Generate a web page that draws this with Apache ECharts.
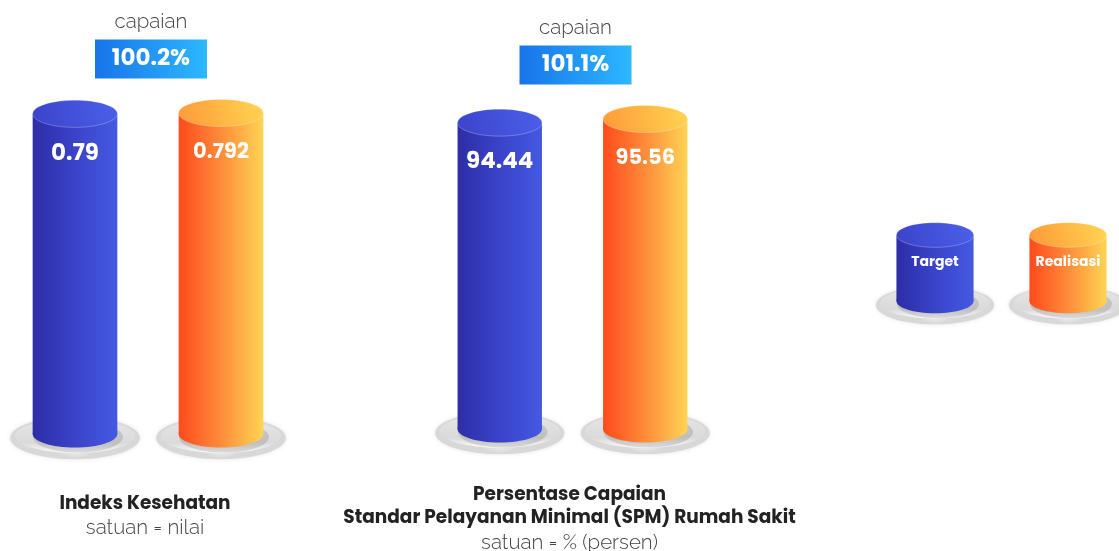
<!DOCTYPE html>
<html>
<head>
<meta charset="utf-8">
<title>Capaian Indikator</title>
<script src="https://cdn.jsdelivr.net/npm/echarts@6/dist/echarts.min.js"></script>
<style>
html, body { margin: 0; padding: 0; background: #fff; }
#chart { width: 1119px; height: 551px; }
</style>
</head>
<body>
<div id="chart"></div>
<script>
// data
var seriesNames = ['Target', 'Realisasi'];
var indikator = [
  ['Indeks Kesehatan'],
  ['Persentase Capaian', 'Standar Pelayanan Minimal (SPM) Rumah Sakit']
];
var satuan = ['satuan = nilai', 'satuan = % (persen)'];
var target = [0.79, 94.44];
var realisasi = [0.792, 95.56];
var capaian = ['100.2%', '101.1%'];

var boldFont = 'Poppins, Inter, "Noto Sans", sans-serif';
var lightFont = 'Raleway, Lato, "Open Sans", sans-serif';

// one grid per indicator, the last one holds the legend cylinders
var grids = [
  { left: 2, top: 113, width: 292, height: 321 },
  { left: 427, top: 119, width: 291, height: 310 },
  { left: 935, top: 235, width: 133, height: 66 }
];

var palette = [
  { side: ['#2d2da6', '#3a43c9', '#4459e2'], cap: ['#3a43c9', '#4c60ea'], size: 23 },
  { side: ['#ff4a1c', '#fd8c3a', '#ffd454'], cap: ['#ff9838', '#ffd652'], size: 21 }
];

function hGrad(c) {
  return new echarts.graphic.LinearGradient(0, 0, 1, 0, [
    { offset: 0, color: c[0] }, { offset: 0.5, color: c[1] }, { offset: 1, color: c[2] }
  ]);
}

function cylinder(isLegend) {
  return function (params, api) {
    var i = api.value(0);
    var top = api.coord([i, api.value(1)]);
    var base = api.coord([i, 0]);
    var w = api.size([1, 0])[0] * 0.58;
    var hw = w / 2, ry = w * 0.16;
    var p = palette[i];
    var side = hGrad(p.side);
    var cap = new echarts.graphic.LinearGradient(0, 1, 1, 0, [
      { offset: 0, color: p.cap[0] }, { offset: 1, color: p.cap[1] }
    ]);
    var label = isLegend ? seriesNames[i] : String(api.value(1));
    return {
      type: 'group',
      children: [
        {
          type: 'ellipse',
          shape: { cx: base[0], cy: base[1] + 4, rx: hw * 1.53, ry: hw * 0.5 },
          style: {
            fill: new echarts.graphic.RadialGradient(0.5, 0.4, 0.6, [
              { offset: 0, color: '#f6f6f6' }, { offset: 0.75, color: '#e8e8e8' }, { offset: 1, color: '#d8d8d8' }
            ]),
            shadowBlur: 4, shadowColor: 'rgba(0,0,0,0.1)'
          }
        },
        {
          type: 'ellipse',
          shape: { cx: base[0], cy: base[1] + 2, rx: hw * 1.42, ry: hw * 0.4 },
          style: {
            fill: new echarts.graphic.LinearGradient(0, 0, 0, 1, [
              { offset: 0, color: '#e6e6e6' }, { offset: 0.7, color: '#dadada' }, { offset: 1, color: '#fafafa' }
            ])
          }
        },
        {
          type: 'ellipse',
          shape: { cx: base[0] + 3, cy: base[1] + 3, rx: hw * 1.06, ry: ry * 1.15 },
          style: { fill: 'rgba(0,0,0,0.12)' }
        },
        {
          type: 'rect',
          shape: { x: top[0] - hw, y: top[1], width: w, height: base[1] - top[1] },
          style: { fill: side }
        },
        {
          type: 'ellipse',
          shape: { cx: base[0], cy: base[1], rx: hw, ry: ry },
          style: { fill: side }
        },
        {
          type: 'ellipse',
          shape: { cx: top[0], cy: top[1], rx: hw, ry: ry },
          style: { fill: cap, stroke: 'rgba(255,255,255,0.25)', lineWidth: 1 }
        },
        {
          type: 'text',
          style: {
            text: label, x: top[0], y: top[1] + (isLegend ? 27 : 40),
            fill: '#fff',
            font: 'bold ' + (isLegend ? 14 : p.size) + 'px ' + boldFont,
            align: 'center', verticalAlign: 'middle',
            textAlign: 'center', textVerticalAlign: 'middle'
          }
        }
      ]
    };
  };
}

function capaianBox(g) {
  return function (params, api) {
    var a = api.coord([0, api.value(1)]);
    var b = api.coord([1, api.value(2)]);
    var cx = (a[0] + b[0]) / 2 + 3;
    var ty = Math.min(a[1], b[1]);
    return {
      type: 'group',
      children: [
        {
          type: 'text',
          style: {
            text: 'capaian', x: cx, y: ty - 91, fill: '#444',
            font: '300 20.5px ' + lightFont,
            align: 'center', verticalAlign: 'middle',
            textAlign: 'center', textVerticalAlign: 'middle'
          }
        },
        {
          type: 'rect',
          shape: { x: cx - 56, y: ty - 73.5, width: 112, height: 39 },
          style: {
            fill: new echarts.graphic.LinearGradient(0, 0, 1, 0, [
              { offset: 0, color: '#1874e8' }, { offset: 1, color: '#2cb8ff' }
            ])
          }
        },
        {
          type: 'text',
          style: {
            text: capaian[g], x: cx, y: ty - 54, fill: '#fff',
            font: 'bold 23px ' + boldFont,
            align: 'center', verticalAlign: 'middle',
            textAlign: 'center', textVerticalAlign: 'middle'
          }
        }
      ]
    };
  };
}

var xAxes = [], yAxes = [], series = [], graphics = [];
grids.forEach(function (gr, g) {
  xAxes.push({ type: 'category', gridIndex: g, data: seriesNames, show: false, boundaryGap: g < 2 });
  yAxes.push({ type: 'value', gridIndex: g, min: 0, max: g < 2 ? 'dataMax' : 1, show: false });
});

for (var g = 0; g < 2; g++) {
  series.push({
    type: 'custom',
    name: indikator[g].join(' '),
    xAxisIndex: g, yAxisIndex: g,
    renderItem: cylinder(false),
    encode: { x: 0, y: 1 },
    data: [[0, target[g]], [1, realisasi[g]]],
    silent: true
  });
  series.push({
    type: 'custom',
    name: 'capaian ' + g,
    xAxisIndex: g, yAxisIndex: g,
    renderItem: capaianBox(g),
    dimensions: ['x', 't', 'r'],
    encode: { x: 0, y: [1, 2] },
    data: [[0, target[g], realisasi[g]]],
    silent: true
  });

  var cx = grids[g].left + grids[g].width / 2 - 3;
  var lines = indikator[g];
  var y0 = 504 - 8.5 * (lines.length - 1);
  lines.forEach(function (t, k) {
    graphics.push({
      type: 'text', x: cx, y: y0 + k * 23,
      style: {
        text: t, fill: '#222', font: 'bold 18.5px ' + boldFont,
        align: 'center', verticalAlign: 'middle', textAlign: 'center', textVerticalAlign: 'middle'
      }
    });
  });
  graphics.push({
    type: 'text', x: cx, y: y0 + (lines.length - 1) * 23 + 24,
    style: {
      text: satuan[g], fill: '#444', font: '300 20.5px ' + lightFont,
      align: 'center', verticalAlign: 'middle', textAlign: 'center', textVerticalAlign: 'middle'
    }
  });
}

// legend cylinders
series.push({
  type: 'custom',
  name: 'legend',
  xAxisIndex: 2, yAxisIndex: 2,
  renderItem: cylinder(true),
  encode: { x: 0, y: 1 },
  data: [[0, 1], [1, 1]],
  silent: true
});

var chart = echarts.init(document.getElementById('chart'));
chart.setOption({
  backgroundColor: '#fff',
  animation: false,
  grid: grids,
  xAxis: xAxes,
  yAxis: yAxes,
  series: series,
  graphic: graphics
});
</script>
</body>
</html>
